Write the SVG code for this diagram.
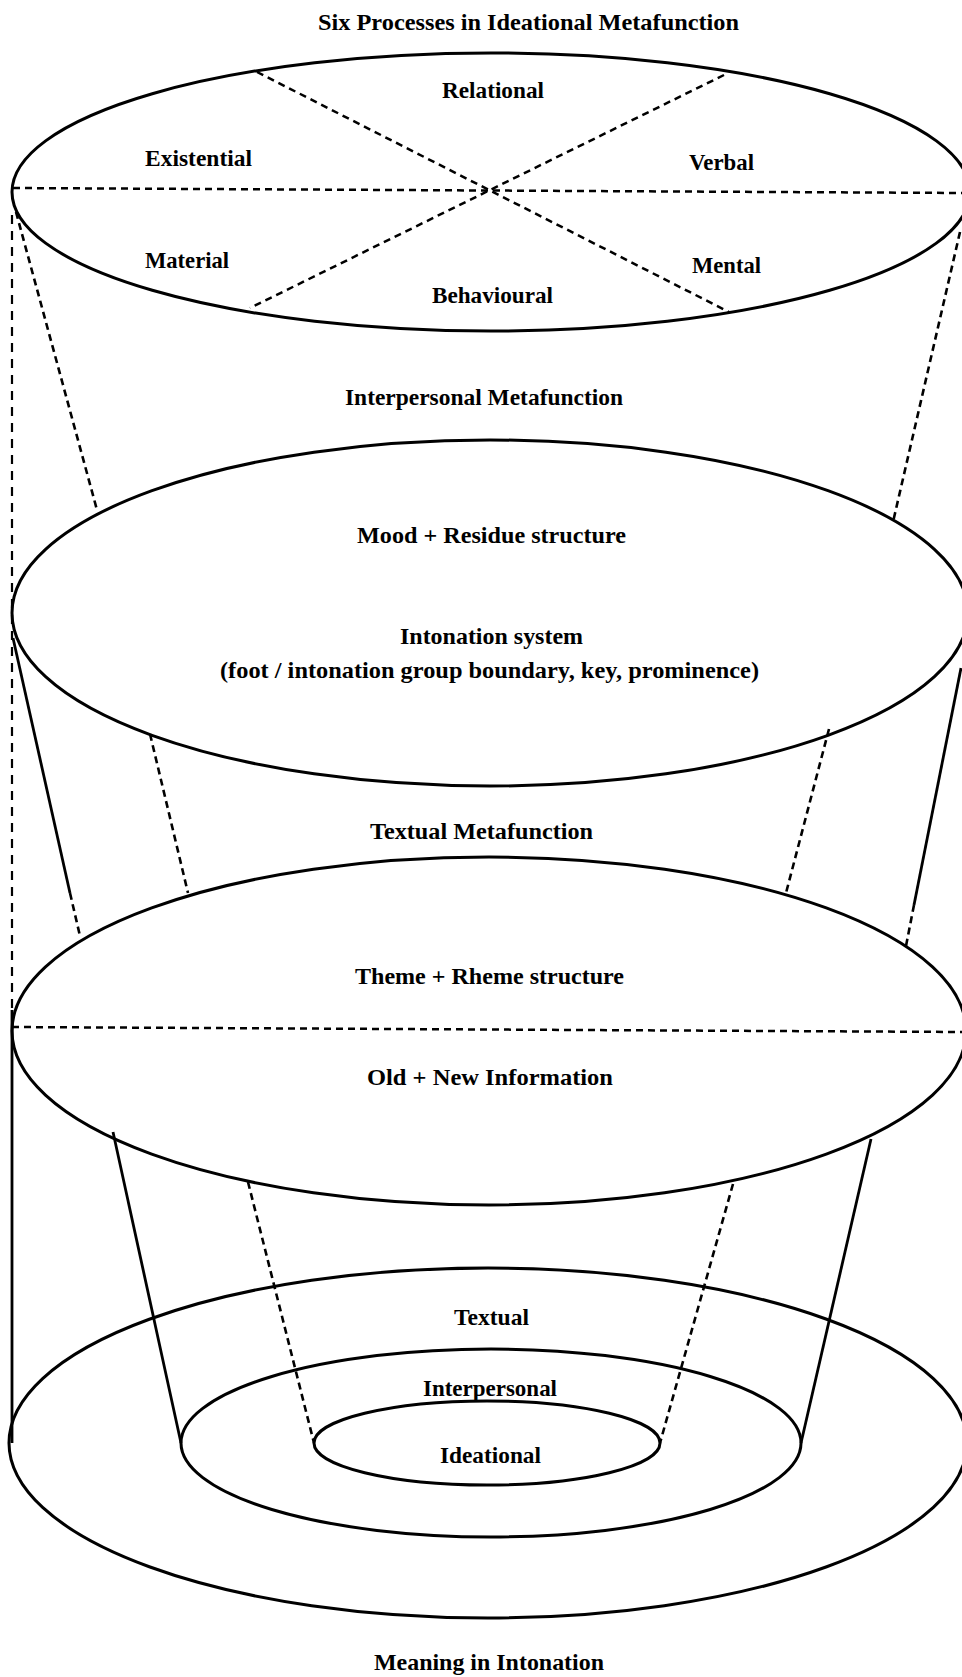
<svg xmlns="http://www.w3.org/2000/svg" width="962" height="1677" viewBox="0 0 962 1677">
  <style>
    .ring { fill: none; stroke: #000; stroke-width: 3; }
    .divider { fill: none; stroke: #000; stroke-width: 2.5; stroke-dasharray: 7 5; }
    .dash { fill: none; stroke: #000; stroke-width: 2.6; stroke-dasharray: 7 4.5; }
    .long { fill: none; stroke: #000; stroke-width: 2.2; stroke-dasharray: 9 7; }
    .solid { fill: none; stroke: #000; stroke-width: 2.8; }
    text { font-family: "Liberation Serif", "Times New Roman", serif; font-weight: bold; font-size: 23.5px; fill: #000; text-anchor: middle; }
  </style>

  <!-- heading -->
  <g id="title">
    <text x="528.5" y="30" textLength="421" lengthAdjust="spacingAndGlyphs">Six Processes in Ideational Metafunction</text>
  </g>

  <!-- ideational disc, split into six process sectors -->
  <g id="ideational-disc">
    <ellipse class="ring" cx="491" cy="192" rx="479" ry="139"/>
    <line class="divider" x1="13" y1="188" x2="962" y2="193"/>
    <line class="divider" x1="257" y1="72" x2="729" y2="312"/>
    <line class="divider" x1="724" y1="75" x2="250" y2="308"/>
    <text x="493" y="98" textLength="102" lengthAdjust="spacingAndGlyphs">Relational</text>
    <text x="198.5" y="166" textLength="107" lengthAdjust="spacingAndGlyphs">Existential</text>
    <text x="721.5" y="170" textLength="65" lengthAdjust="spacingAndGlyphs">Verbal</text>
    <text x="187" y="268" textLength="84" lengthAdjust="spacingAndGlyphs">Material</text>
    <text x="726.5" y="273" textLength="69" lengthAdjust="spacingAndGlyphs">Mental</text>
    <text x="492.5" y="303" textLength="121" lengthAdjust="spacingAndGlyphs">Behavioural</text>
  </g>

  <!-- interpersonal disc -->
  <g id="interpersonal-disc">
    <text x="484" y="405" textLength="278" lengthAdjust="spacingAndGlyphs">Interpersonal Metafunction</text>
    <ellipse class="ring" cx="490" cy="613" rx="478" ry="173"/>
    <text x="491.5" y="543" textLength="269" lengthAdjust="spacingAndGlyphs">Mood + Residue structure</text>
    <text x="491.5" y="644" textLength="183" lengthAdjust="spacingAndGlyphs">Intonation system</text>
    <text x="489.5" y="678" textLength="539" lengthAdjust="spacingAndGlyphs">(foot / intonation group boundary, key, prominence)</text>
  </g>

  <!-- textual disc -->
  <g id="textual-disc">
    <text x="481.5" y="839" textLength="223" lengthAdjust="spacingAndGlyphs">Textual Metafunction</text>
    <ellipse class="ring" cx="489" cy="1031" rx="477" ry="174"/>
    <line class="divider" x1="12" y1="1027" x2="962" y2="1032"/>
    <text x="489.5" y="984" textLength="269" lengthAdjust="spacingAndGlyphs">Theme + Rheme structure</text>
    <text x="490" y="1085" textLength="246" lengthAdjust="spacingAndGlyphs">Old + New Information</text>
  </g>

  <!-- concentric base rings -->
  <g id="base-rings">
    <ellipse class="ring" cx="488" cy="1443" rx="479" ry="175"/>
    <ellipse class="ring" cx="491" cy="1443" rx="310" ry="94"/>
    <ellipse class="ring" cx="487" cy="1443" rx="173" ry="42"/>
    <text x="491.5" y="1325" textLength="75" lengthAdjust="spacingAndGlyphs">Textual</text>
    <text x="490" y="1396" textLength="134" lengthAdjust="spacingAndGlyphs">Interpersonal</text>
    <text x="490.5" y="1463" textLength="101" lengthAdjust="spacingAndGlyphs">Ideational</text>
    <text x="489" y="1670" textLength="230" lengthAdjust="spacingAndGlyphs">Meaning in Intonation</text>
  </g>

  <!-- connectors between the layers -->
  <g id="connectors">
    <!-- left-hand vertical -->
    <line class="long" x1="12" y1="215" x2="12" y2="1010"/>
    <line class="solid" x1="12" y1="1010" x2="12" y2="1443"/>
    <!-- ideational to interpersonal -->
    <line class="dash" x1="16" y1="212" x2="97" y2="510"/>
    <line class="dash" x1="960" y1="232" x2="893" y2="522"/>
    <!-- interpersonal to textual -->
    <line class="solid" x1="13" y1="638" x2="70" y2="893"/>
    <line class="dash" x1="70" y1="893" x2="80" y2="936"/>
    <line class="dash" x1="150" y1="734" x2="188" y2="893"/>
    <line class="dash" x1="829" y1="729" x2="786" y2="893"/>
    <line class="solid" x1="961" y1="668" x2="914" y2="905"/>
    <line class="dash" x1="914" y1="905" x2="906" y2="946"/>
    <!-- textual to base rings -->
    <line class="solid" x1="113" y1="1132" x2="181" y2="1443"/>
    <line class="dash" x1="248" y1="1182" x2="314" y2="1443"/>
    <line class="dash" x1="733" y1="1184" x2="660" y2="1443"/>
    <line class="solid" x1="871" y1="1139" x2="801" y2="1443"/>
  </g>
</svg>
